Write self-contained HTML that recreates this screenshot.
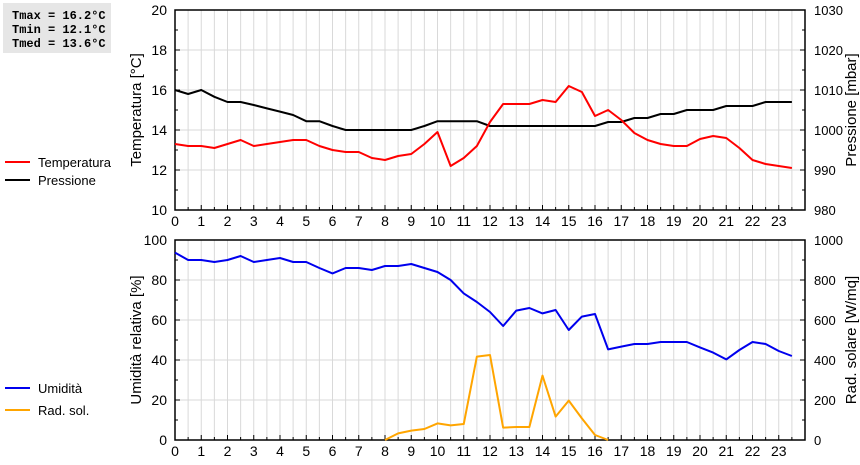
<!DOCTYPE html>
<html><head><meta charset="utf-8"><style>
body{margin:0;background:#fff;width:860px;height:460px;overflow:hidden;font-family:"Liberation Sans",sans-serif}
svg text{font-family:"Liberation Sans",sans-serif}
</style></head><body>
<svg id="c" width="860" height="460">
<rect x="3" y="3" width="108" height="50" fill="#e6e6e6"/>
<text x="12" y="19" font-weight="bold" font-size="12" style="font-family:'Liberation Mono',monospace">Tmax = 16.2°C</text>
<text x="12" y="33" font-weight="bold" font-size="12" style="font-family:'Liberation Mono',monospace">Tmin = 12.1°C</text>
<text x="12" y="47" font-weight="bold" font-size="12" style="font-family:'Liberation Mono',monospace">Tmed = 13.6°C</text>
</svg>
<script>
const hours=[];for(let i=0;i<48;i++)hours.push(i/2);
const temp=[13.3,13.2,13.2,13.1,13.3,13.5,13.2,13.3,13.4,13.5,13.5,13.2,13.0,12.9,12.9,12.6,12.5,12.7,12.8,13.3,13.9,12.2,12.6,13.2,14.4,15.3,15.3,15.3,15.5,15.4,16.2,15.9,14.7,15.0,14.5,13.85,13.5,13.3,13.2,13.2,13.55,13.7,13.6,13.1,12.5,12.3,12.2,12.1];
const press=[1010,1009,1010,1008.3,1007,1007,1006.25,1005.4,1004.6,1003.75,1002.2,1002.2,1001,1000,1000,1000,1000,1000,1000,1001,1002.2,1002.2,1002.2,1002.2,1001,1001,1001,1001,1001,1001,1001,1001,1001,1002,1002,1003,1003,1004,1004,1005,1005,1005,1006,1006,1006,1007,1007,1007];
const hum=[93.7,90,90,89,90,92,89,90,91,89,89,86,83.3,86,86,85,87,87,88,86,84,80,73.3,69,64,57,64.7,66,63.3,65,55,61.7,63,45.3,46.7,48,48,49,49,49,46.3,43.7,40.3,45,49,48,44.5,42];
const rad=[null,null,null,null,null,null,null,null,null,null,null,null,null,null,null,null,0,33,47,55,83,73,80,417,425,62,65,65,322,117,197,108,25,0,null,null,null,null,null,null,null,null,null,null,null,null,null,null];
const tempTicks=[10,12,14,16,18,20];
const pressTicks=[980,990,1000,1010,1020,1030];
const humTicks=[0,20,40,60,80,100];
const radTicks=[0,200,400,600,800,1000];
const hourTicks=[];for(let i=0;i<24;i++)hourTicks.push(i);

const NS="http://www.w3.org/2000/svg",svg=document.getElementById('c');
const X0=175,X1=805;
const xs=h=>X0+h*(X1-X0)/24;
function el(t,a,p){const e=document.createElementNS(NS,t);for(const k in a)e.setAttribute(k,a[k]);(p||svg).appendChild(e);return e;}
function panel(top,bot,lmin,lmax,lt,rmin,rmax,rt,ltitle,rtitle,pfx){
  const yl=v=>bot-(v-lmin)/(lmax-lmin)*(bot-top);
  const yr=v=>bot-(v-rmin)/(rmax-rmin)*(bot-top);
  for(let i=1;i<48;i++){const g=el('line',{x1:xs(i/2),x2:xs(i/2),y1:top,y2:bot,stroke:'#d9d9d9','stroke-width':1});
    }
  const step=(lt[1]-lt[0]);
  lt.forEach((v,i)=>{const y=yl(v);
    if(i>0&&i<lt.length-1){const g=el('line',{x1:X0,x2:X1,y1:y,y2:y,stroke:'#d9d9d9'});}
    el('line',{x1:X0,x2:X0+5,y1:y,y2:y,stroke:'#000'});el('line',{x1:X1,x2:X1-5,y1:y,y2:y,stroke:'#000'});
    if(i<lt.length-1){const ym=yl(v+step/2);el('line',{x1:X0,x2:X0+3,y1:ym,y2:ym,stroke:'#000'});el('line',{x1:X1,x2:X1-3,y1:ym,y2:ym,stroke:'#000'});}
    const t=el('text',{x:X0-8,y:y+5,'text-anchor':'end','font-size':14});t.textContent=v;
    });
  rt.forEach(v=>{const t=el('text',{x:X1+9,y:yr(v)+5,'font-size':13});t.textContent=v;
    });
  for(let i=1;i<48;i++){el('line',{x1:xs(i/2),x2:xs(i/2),y1:bot,y2:bot-(i%2?3:5),stroke:'#000'});}
  hourTicks.forEach(h=>{const t=el('text',{x:xs(h),y:bot+16,'text-anchor':'middle','font-size':14});t.textContent=h;
    });
  const f=el('rect',{x:X0,y:top,width:X1-X0,height:bot-top,fill:'none',stroke:'#000','stroke-width':1.5});
  
  const cy=(top+bot)/2;
  const a=el('text',{x:0,y:0,'text-anchor':'middle','font-size':15,transform:`translate(141,${cy}) rotate(-90)`});a.textContent=ltitle;
  
  const b=el('text',{x:0,y:0,'text-anchor':'middle','font-size':15,transform:`translate(856,${cy}) rotate(-90)`});b.textContent=rtitle;
  
  return [yl,yr];
}
function line(vals,sc,col,name){const pts=[];vals.forEach((v,i)=>{if(v!==null)pts.push(xs(hours[i])+','+sc(v));});
  const p=el('polyline',{points:pts.join(' '),fill:'none',stroke:col,'stroke-width':2,'stroke-linejoin':'round'});
  }
function legend(y,col,label,name){const g=el('g',{});
  el('line',{x1:5,x2:30,y1:y,y2:y,stroke:col,'stroke-width':2},g);const t=el('text',{x:38,y:y+5,'font-size':13},g);t.textContent=label;}
const [ty,py]=panel(10,210,10,20,tempTicks,980,1030,pressTicks,'Temperatura [°C]','Pressione [mbar]','top');
line(press,py,'#000','pressure-line');line(temp,ty,'#f00','temperature-line');
const [hy,ry]=panel(240,440,0,100,humTicks,0,1000,radTicks,'Umidità relativa [%]','Rad. solare [W/mq]','bottom');
line(rad,ry,'#ffa500','radiation-line');line(hum,hy,'#0000ee','humidity-line');
legend(162,'#f00','Temperatura','legend-temperature');legend(180,'#000','Pressione','legend-pressure');
legend(388,'#0000ee','Umidità','legend-humidity');legend(410,'#ffa500','Rad. sol.','legend-radiation');
</script>
</body></html>
